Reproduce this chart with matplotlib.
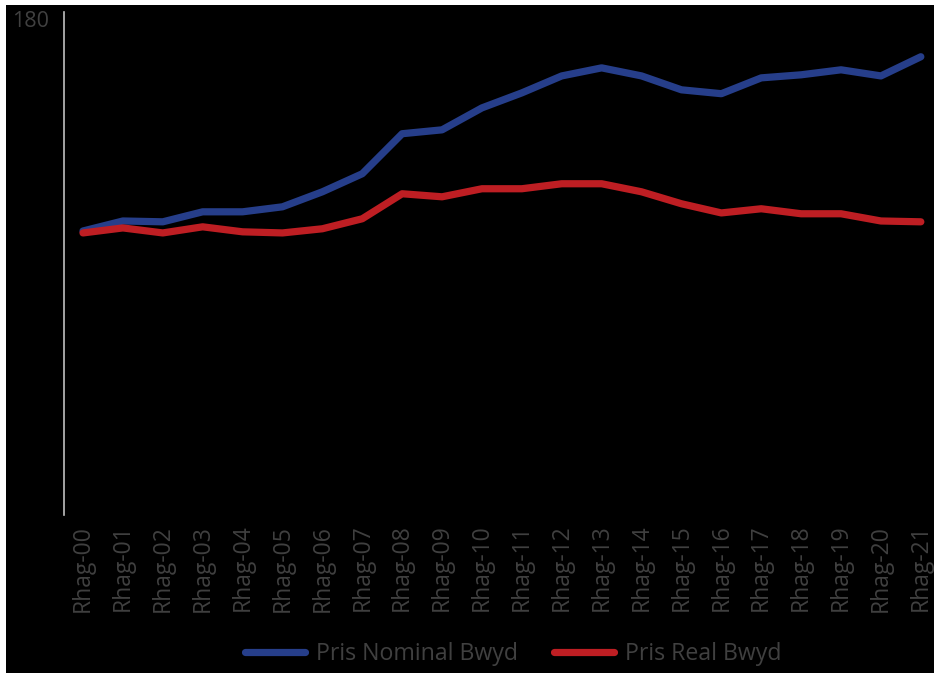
import matplotlib
matplotlib.use('Agg')
import matplotlib.pyplot as plt
from matplotlib.patches import Rectangle

# data
labels = ['Rhag-%02d' % i for i in range(22)]
nominal = [102.2, 105.8, 105.5, 109.1, 109.1, 110.9, 116.3, 122.8, 137.2, 138.6, 146.5,
           151.9, 158.0, 160.9, 158.0, 153.0, 151.6, 157.3, 158.4, 160.2, 158.0, 164.9]
real = [101.5, 103.3, 101.5, 103.7, 101.9, 101.5, 103.0, 106.6, 115.6, 114.5, 117.4,
        117.4, 119.2, 119.2, 116.3, 112.0, 108.7, 110.2, 108.4, 108.4, 105.8, 105.5]
ymax_label = 180

plt.rcParams['font.family'] = ['Open Sans', 'DejaVu Sans']
txt = '#404040'
W, H = 934, 673

fig = plt.figure(figsize=(W / 100, H / 100), dpi=100, facecolor='white')
# black panel with a thin white strip on the left and top
fig.patches.append(Rectangle((6 / W, 0), 1, 1 - 5 / H, transform=fig.transFigure,
                             facecolor='black', edgecolor='none', zorder=-10))

ax = fig.add_axes([64 / W, (H - 515) / H, (W - 64) / W, (515 - 12) / H])
ax.patch.set_alpha(0)

x = list(range(len(labels)))
ax.plot(x, nominal, color='#263e8a', lw=5.2, solid_capstyle='round', label='Pris Nominal Bwyd')
ax.plot(x, real, color='#be1e23', lw=5.2, solid_capstyle='round', label='Pris Real Bwyd')

ax.set_xlim(-0.476, 21.33)
ax.set_ylim(0, 181)

for s in ['top', 'right', 'bottom']:
    ax.spines[s].set_visible(False)
ax.spines['left'].set_color('#bfbfbf')
ax.spines['left'].set_linewidth(1.2)

ax.set_xticks(x)
ax.set_xticklabels(labels, rotation=90, color=txt, fontsize=16.5)
ax.tick_params(axis='x', length=0, pad=7)
ax.set_yticks([])
# only the top value is labelled on the y axis
ax.annotate(str(ymax_label), xy=(0, ymax_label), xycoords=('axes fraction', 'data'),
            xytext=(-15, -12), textcoords='offset pixels', ha='right', va='baseline',
            color=txt, fontsize=15.5)

fig.legend(loc='center', bbox_to_anchor=(513 / W, 1 - 654 / H), ncol=2, frameon=False,
           fontsize=16.7, labelcolor=txt, handlelength=2.6, handletextpad=0.47,
           columnspacing=1.55)

fig.savefig('out.png', dpi=100, facecolor='white')
